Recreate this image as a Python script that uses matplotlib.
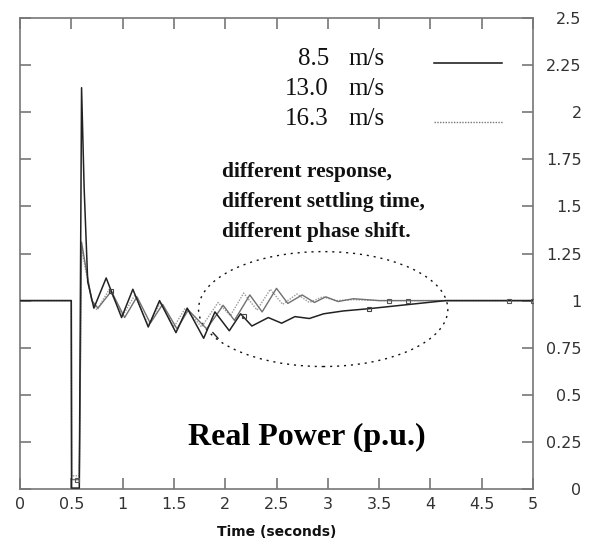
import matplotlib
matplotlib.use("Agg")
import matplotlib.pyplot as plt
from matplotlib.patches import Ellipse

# ---------------- data ----------------
t_85 = [0, 0.50, 0.503, 0.578, 0.60, 0.625, 0.66, 0.72, 0.84, 0.99, 1.10, 1.25, 1.36, 1.52,
        1.63, 1.79, 1.90, 2.04, 2.15, 2.26, 2.42, 2.55, 2.68, 2.82, 2.96, 3.15, 3.40, 3.80, 4.15, 5.0]
v_85 = [1.0, 1.0, 0.005, 0.005, 2.13, 1.60, 1.10, 0.96, 1.12, 0.91, 1.06, 0.86, 1.00, 0.83,
        0.96, 0.80, 0.94, 0.84, 0.93, 0.865, 0.91, 0.88, 0.915, 0.905, 0.93, 0.945, 0.957, 0.98, 1.0, 1.0]

t_130 = [0, 0.50, 0.503, 0.578, 0.60, 0.64, 0.70, 0.76, 0.89, 1.02, 1.14, 1.27, 1.39, 1.53, 1.64,
         1.82, 1.98, 2.09, 2.24, 2.36, 2.50, 2.61, 2.75, 2.87, 2.98, 3.10, 3.25, 3.50, 4.00, 5.0]
v_130 = [1.0, 1.0, 0.05, 0.05, 1.31, 1.18, 1.00, 0.96, 1.05, 0.91, 1.02, 0.88, 0.98, 0.85, 0.95,
         0.85, 0.975, 0.895, 1.03, 0.94, 1.065, 0.985, 1.03, 0.99, 1.02, 0.995, 1.01, 1.0, 1.0, 1.0]

t_163 = [0, 0.50, 0.503, 0.578, 0.60, 0.64, 0.70, 0.75, 0.87, 1.00, 1.12, 1.25, 1.37, 1.50, 1.61,
         1.77, 1.93, 2.05, 2.18, 2.31, 2.44, 2.56, 2.70, 2.82, 2.95, 3.08, 3.25, 3.50, 4.00, 5.0]
v_163 = [1.0, 1.0, 0.07, 0.07, 1.28, 1.16, 1.00, 0.95, 1.06, 0.92, 1.03, 0.87, 0.99, 0.86, 0.96,
         0.86, 0.99, 0.92, 1.04, 0.95, 1.06, 0.98, 1.035, 0.99, 1.02, 1.0, 1.005, 1.0, 1.0, 1.0]

# small marker points seen along the curves
mk_85_t = [0.89, 2.18, 3.40]
mk_85_v = [1.05, 0.92, 0.957]
mk_gray_t = [0.56, 3.60, 3.78, 4.77, 5.0]
mk_gray_v = [0.05, 1.0, 1.0, 1.0, 1.0]

legend_labels = ["8.5", "13.0", "16.3"]
legend_unit = "m/s"
note_lines = ["different response,", "different settling time,", "different phase shift."]
panel_title = "Real Power (p.u.)"
x_label = "Time (seconds)"

x_ticks = [0, 0.5, 1, 1.5, 2, 2.5, 3, 3.5, 4, 4.5, 5]
x_ticklabels = ["0", "0.5", "1", "1.5", "2", "2.5", "3", "3.5", "4", "4.5", "5"]
y_ticks = [0, 0.25, 0.5, 0.75, 1, 1.25, 1.5, 1.75, 2, 2.25, 2.5]
y_ticklabels = ["0", "0.25", "0.5", "0.75", "1", "1.25", "1.5", "1.75", "2", "2.25", "2.5"]

# ellipse (data coords)
ell_center = (2.955, 0.955)
ell_w, ell_h = 2.43, 0.61

# ---------------- figure ----------------
W, H = 604, 547
fig = plt.figure(figsize=(W / 100, H / 100), dpi=100)
L, R, B, T = 20, 533, 489, 18
ax = fig.add_axes([L / W, 1 - B / H, (R - L) / W, (B - T) / H])

def ax_x(px):
    return (px - L) / (R - L)

def ax_y(py):
    return (B - py) / (B - T)

ax.plot(t_163, v_163, color="#9a9a9a", lw=1.0, ls=(0, (1, 1)), zorder=3)
ax.plot(t_130, v_130, color="#707070", lw=1.0, zorder=3)
ax.plot(t_85, v_85, color="#222222", lw=1.1, zorder=4)
ax.plot(mk_85_t, mk_85_v, ls="none", marker="s", ms=3, mfc="none", mec="#444444", mew=0.8, zorder=5)
ax.plot(mk_gray_t, mk_gray_v, ls="none", marker="s", ms=2.5, mfc="none", mec="#555555", mew=0.8, zorder=5)

ell = Ellipse(ell_center, ell_w, ell_h, fill=False, ec="#111111", lw=1.0,
              ls=(0, (1.5, 3.5)), zorder=2)
ax.add_patch(ell)
ax.plot([1.88, 1.93], [0.83, 0.80], color="#222222", lw=1.0)

ax.set_xlim(0, 5)
ax.set_ylim(0, 2.5)
ax.set_xticks(x_ticks)
ax.set_xticklabels(x_ticklabels)
ax.set_yticks(y_ticks)
ax.set_yticklabels(y_ticklabels)

for s in ax.spines.values():
    s.set_color("#777777")
    s.set_linewidth(1.2)

ax.tick_params(axis="both", direction="in", length=8, width=1.2, color="#777777",
               labelcolor="#333333", labelsize=11.5)
ax.tick_params(axis="x", top=True, bottom=True, labeltop=False, labelbottom=True, pad=6)
ax.tick_params(axis="y", left=True, right=True, labelleft=False, labelright=True, pad=35)
for lab in ax.get_yticklabels():
    lab.set_horizontalalignment("right")

ax.set_xlabel(x_label, fontsize=10, fontweight="bold", color="#111111")
ax.xaxis.set_label_coords(0.5, ax_y(532))
ax.xaxis.label.set_va("center")

serif = ["Liberation Serif", "DejaVu Serif"]
row_y = [59, 89, 119]
for lab, py in zip(legend_labels, row_y):
    ax.text(ax_x(329), ax_y(py), lab, transform=ax.transAxes, ha="right", va="center",
            fontsize=18, family=serif, color="#111111")
    ax.text(ax_x(348), ax_y(py), legend_unit, transform=ax.transAxes, ha="left", va="center",
            fontsize=18, family=serif, color="#111111")
ax.plot([ax_x(434), ax_x(502)], [ax_y(63), ax_y(63)], transform=ax.transAxes,
        color="#111111", lw=1.1)
ax.plot([ax_x(434), ax_x(503)], [ax_y(122), ax_y(122)], transform=ax.transAxes,
        color="#777777", lw=1.0, ls=(0, (1, 1)))

note_y = [172, 202, 232]
for line, py in zip(note_lines, note_y):
    ax.text(ax_x(222), ax_y(py), line, transform=ax.transAxes, ha="left", va="center",
            fontsize=15.5, fontweight="bold", family=serif, color="#111111")

ax.text(ax_x(188), ax_y(437), panel_title, transform=ax.transAxes, ha="left", va="center",
        fontsize=23, fontweight="bold", family=serif, color="#000000")

fig.savefig("out.png", dpi=100)
